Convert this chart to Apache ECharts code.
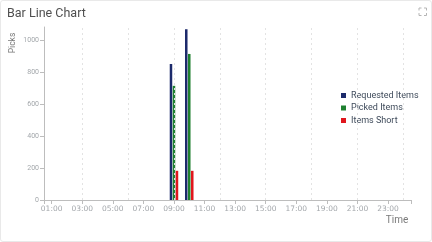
<!DOCTYPE html>
<html>
<head>
<meta charset="utf-8">
<script src="https://cdn.jsdelivr.net/npm/echarts@6/dist/echarts.min.js"></script>
<style>
  html, body { margin: 0; padding: 0; background: #fff; }
  #card {
    position: absolute; left: 0; top: 0; width: 430px; height: 240px;
    border: 1px solid #e9e9e9; border-radius: 3px; background: #fff;
  }
  #chart { width: 430px; height: 240px; }
</style>
</head>
<body>
<div id="card"><div id="chart"></div></div>
<script>
// Hourly pick activity
const hours = [9, 10];
const requestedItems = [853, 1071];
const pickedItems = [716, 916];
const itemsShort = [183, 183];

// Axis marks (hour of day)
const labelHours = [1, 3, 5, 7, 9, 11, 13, 15, 17, 19, 21, 23];
const gridHours = [3, 6, 9, 12, 15, 18, 21, 24];

const seriesNames = ['Requested Items', 'Picked Items', 'Items Short'];
const seriesColors = ['#1c2a6b', '#1f8030', '#e0161d'];

function pair(vals) { return hours.map((h, i) => [h, vals[i]]); }
function hourLabel(v) { return (v < 10 ? '0' : '') + v + ':00'; }

const chart = echarts.init(document.getElementById('chart'), null, { renderer: 'canvas' });

const barBase = { type: 'bar', barWidth: 2.5, barGap: '20%', z: 2 };
const axisGrey = '#bdbdbd';

chart.setOption({
  animation: false,
  title: {
    text: 'Bar Line Chart', left: 1, top: 1,
    textStyle: { fontFamily: 'Roboto', fontSize: 12.5, fontWeight: 'normal', color: '#4f4f4f' }
  },
  grid: { left: 43, right: 20, top: 26, bottom: 41 },
  legend: {
    orient: 'vertical', left: 335, top: 85,
    icon: 'rect', itemWidth: 5, itemHeight: 5, itemGap: 3.5,
    textStyle: { fontFamily: 'Roboto', fontSize: 9, color: '#3f4b5b' },
    data: seriesNames
  },
  xAxis: {
    type: 'value', min: 0.5, max: 24.5,
    axisLine: { show: true, lineStyle: { color: axisGrey } },
    axisTick: { show: true, length: 4, customValues: [0.5].concat(labelHours, [24.5]), lineStyle: { color: axisGrey } },
    axisLabel: {
      customValues: labelHours, formatter: hourLabel, margin: 5,
      fontFamily: 'DejaVu Sans', fontSize: 7.5, color: '#a3a7ab'
    },
    splitLine: { show: false }
  },
  yAxis: {
    type: 'value', min: 0, max: 1085, interval: 200,
    axisLine: { show: true, lineStyle: { color: axisGrey } },
    axisTick: { show: true, length: 4, lineStyle: { color: axisGrey } },
    axisLabel: {
      showMaxLabel: false, margin: 5,
      formatter: (v) => String(v),
      fontFamily: 'Roboto', fontSize: 7, color: '#a3a7ab'
    },
    splitLine: { show: false }
  },
  graphic: [
    {
      type: 'text', x: 12, y: 42, rotation: Math.PI / 2,
      style: { text: 'Picks', font: '8.5px Roboto', fill: '#7a7a7a', align: 'center', verticalAlign: 'middle' }
    },
    {
      type: 'text', x: 396, y: 219,
      style: { text: 'Time', font: '10px Roboto', fill: '#7a7a7a', align: 'center', verticalAlign: 'middle' }
    },
    {
      type: 'group', x: 418, y: 7,
      children: [
        { type: 'polyline', shape: { points: [[0, 2.5], [0, 0], [2.5, 0]] }, style: { stroke: '#b5b5b5', lineWidth: 1, fill: null } },
        { type: 'polyline', shape: { points: [[5, 0], [7.5, 0], [7.5, 2.5]] }, style: { stroke: '#b5b5b5', lineWidth: 1, fill: null } },
        { type: 'polyline', shape: { points: [[0, 5], [0, 7.5], [2.5, 7.5]] }, style: { stroke: '#b5b5b5', lineWidth: 1, fill: null } },
        { type: 'polyline', shape: { points: [[5, 7.5], [7.5, 7.5], [7.5, 5]] }, style: { stroke: '#b5b5b5', lineWidth: 1, fill: null } }
      ]
    }
  ],
  series: [
    // vertical guide lines every three hours, kept behind the bars
    {
      type: 'line', data: [], z: 1, silent: true,
      markLine: {
        silent: true, symbol: 'none', label: { show: false },
        lineStyle: { color: '#e3e3e3', type: [2, 3], width: 1 },
        data: gridHours.map((h) => ({ xAxis: h }))
      }
    },
    Object.assign({}, barBase, { name: seriesNames[0], data: pair(requestedItems), itemStyle: { color: seriesColors[0] } }),
    Object.assign({}, barBase, { name: seriesNames[1], data: pair(pickedItems), itemStyle: { color: seriesColors[1] } }),
    Object.assign({}, barBase, { name: seriesNames[2], data: pair(itemsShort), itemStyle: { color: seriesColors[2] } })
  ]
});
</script>
</body>
</html>
